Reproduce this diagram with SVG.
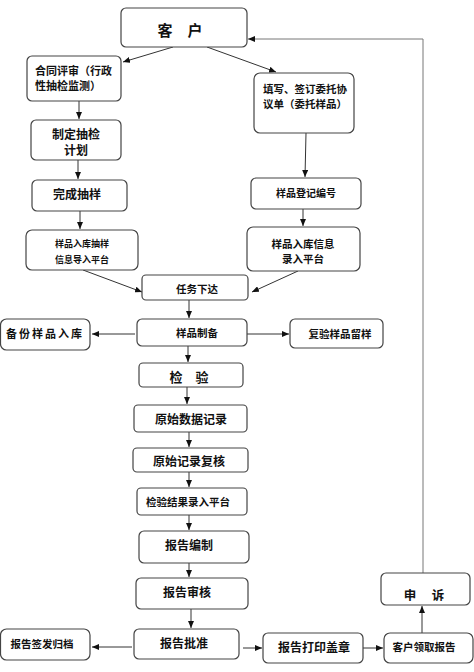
<svg xmlns="http://www.w3.org/2000/svg" width="474" height="672" viewBox="0 0 474 672">
<style>
.n rect{fill:#fff;stroke:#444;stroke-width:1.2}
text{font-family:"Noto Sans CJK SC","Liberation Sans",sans-serif;font-weight:700;fill:#111;dominant-baseline:central}
.c{text-anchor:middle}
.s{font-family:"Noto Sans CJK SC","Liberation Serif",serif}
#connectors line,#connectors polyline{stroke:#333;stroke-width:1;fill:none;marker-end:url(#ah)}
</style>
<defs>
<marker id="ah" markerUnits="userSpaceOnUse" markerWidth="7" markerHeight="6" refX="7" refY="3" orient="auto">
<path d="M0,0 L7,3 L0,6 z" fill="#111"/>
</marker>
</defs>
<rect width="474" height="672" fill="#fff"/>
<g id="connectors">
<line x1="173" y1="47" x2="123" y2="62"/>
<line x1="207" y1="47" x2="276" y2="72"/>
<line x1="79" y1="101" x2="79" y2="119"/>
<line x1="78" y1="160" x2="78" y2="179"/>
<line x1="80" y1="211" x2="80" y2="229"/>
<line x1="83" y1="270" x2="142" y2="292"/>
<line x1="306" y1="133" x2="305" y2="177"/>
<line x1="303" y1="209" x2="303" y2="226"/>
<line x1="298" y1="271" x2="252" y2="292"/>
<line x1="189" y1="300" x2="189" y2="318"/>
<line x1="135" y1="334" x2="92" y2="334"/>
<line x1="247" y1="334" x2="289" y2="334"/>
<line x1="188" y1="346" x2="188" y2="362"/>
<line x1="187" y1="387" x2="187" y2="404"/>
<line x1="189" y1="432" x2="189" y2="447"/>
<line x1="189" y1="472" x2="189" y2="487"/>
<line x1="189" y1="515" x2="189" y2="530"/>
<line x1="189" y1="563" x2="189" y2="577"/>
<line x1="191" y1="609" x2="191" y2="628"/>
<line x1="132" y1="647" x2="92" y2="647"/>
<line x1="243" y1="648" x2="262" y2="648"/>
<line x1="363" y1="648" x2="383" y2="648"/>
<line x1="422" y1="633" x2="422" y2="606"/>
<polyline points="423,573 423,39 248,39" style="stroke:#777"/>
</g>
<g id="n-kehu" class="n"><rect x="121" y="8" width="126" height="39" rx="5"/><text class="c s" x="180" y="29" font-size="15">客　户</text></g>
<g id="n-hetong" class="n"><rect x="27" y="56" width="94" height="45" rx="5"/><text x="35" y="70" font-size="11">合同评审（行政</text><text x="35" y="85" font-size="11">性抽检监测）</text></g>
<g id="n-tianxie" class="n"><rect x="254" y="73" width="100" height="60" rx="6"/><text x="263" y="88" font-size="10.5">填写、签订委托协</text><text x="263" y="103" font-size="10.5">议单（委托样品）</text></g>
<g id="n-zhiding" class="n"><rect x="31" y="120" width="90" height="40" rx="5"/><text class="c" x="76" y="133" font-size="12">制定抽检</text><text class="c" x="76" y="149" font-size="12">计划</text></g>
<g id="n-wancheng" class="n"><rect x="32" y="180" width="95" height="31" rx="5"/><text class="c" x="77" y="193" font-size="12">完成抽样</text></g>
<g id="n-rukuchouyang" class="n"><rect x="26" y="230" width="112" height="40" rx="6"/><text class="c" x="82" y="243" font-size="9">样品入库抽样</text><text class="c" x="82" y="259" font-size="9">信息导入平台</text></g>
<g id="n-dengji" class="n"><rect x="251" y="178" width="110" height="31" rx="5"/><text class="c" x="306" y="192" font-size="10">样品登记编号</text></g>
<g id="n-rukuxinxi" class="n"><rect x="247" y="227" width="113" height="44" rx="6"/><text class="c" x="303" y="243" font-size="10.5">样品入库信息</text><text class="c" x="303" y="258" font-size="10.5">录入平台</text></g>
<g id="n-renwu" class="n"><rect x="142" y="275" width="106" height="25" rx="4"/><text class="c" x="197" y="288" font-size="10.5">任务下达</text></g>
<g id="n-zhibei" class="n"><rect x="137" y="319" width="110" height="27" rx="5"/><text class="c" x="197" y="332" font-size="10.5">样品制备</text></g>
<g id="n-beifen" class="n"><rect x="0.5" y="319" width="89.5" height="31" rx="6"/><text class="c" x="45" y="333" font-size="11" letter-spacing="2">备份样品入库</text></g>
<g id="n-fuyan" class="n"><rect x="290" y="319" width="93" height="29" rx="5"/><text class="c" x="340" y="333" font-size="10.5">复验样品留样</text></g>
<g id="n-jianyan" class="n"><rect x="139" y="363" width="104" height="24" rx="4"/><text class="c s" x="189" y="376" font-size="13">检　验</text></g>
<g id="n-yuanshishuju" class="n"><rect x="134" y="405" width="113" height="27" rx="4"/><text class="c" x="191" y="418" font-size="12">原始数据记录</text></g>
<g id="n-fuhe" class="n"><rect x="133" y="448" width="115" height="24" rx="4"/><text class="c" x="189" y="460" font-size="12">原始记录复核</text></g>
<g id="n-jieguo" class="n"><rect x="137" y="488" width="110" height="27" rx="4"/><text class="c" x="188" y="501" font-size="10.5">检验结果录入平台</text></g>
<g id="n-bianzhi" class="n"><rect x="139" y="531" width="110" height="32" rx="5"/><text class="c" x="189" y="544" font-size="12">报告编制</text></g>
<g id="n-shenhe" class="n"><rect x="136" y="578" width="112" height="31" rx="5"/><text class="c" x="187" y="591" font-size="12">报告审核</text></g>
<g id="n-pizhun" class="n"><rect x="134" y="629" width="105" height="30" rx="5"/><text class="c" x="184" y="642" font-size="12">报告批准</text></g>
<g id="n-qianfa" class="n"><rect x="0.5" y="629" width="89.5" height="31" rx="6"/><text class="c" x="42" y="643" font-size="10.5">报告签发归档</text></g>
<g id="n-dayin" class="n"><rect x="263" y="633" width="100" height="30" rx="5"/><text class="c" x="314" y="646" font-size="12">报告打印盖章</text></g>
<g id="n-lingqu" class="n"><rect x="384" y="633" width="89" height="30" rx="6"/><text class="c" x="424" y="646" font-size="10.5">客户领取报告</text></g>
<g id="n-shensu" class="n"><rect x="381" y="573" width="89" height="32" rx="5"/><text class="c s" x="424" y="594" font-size="12.5">申　 诉</text></g>
</svg>
